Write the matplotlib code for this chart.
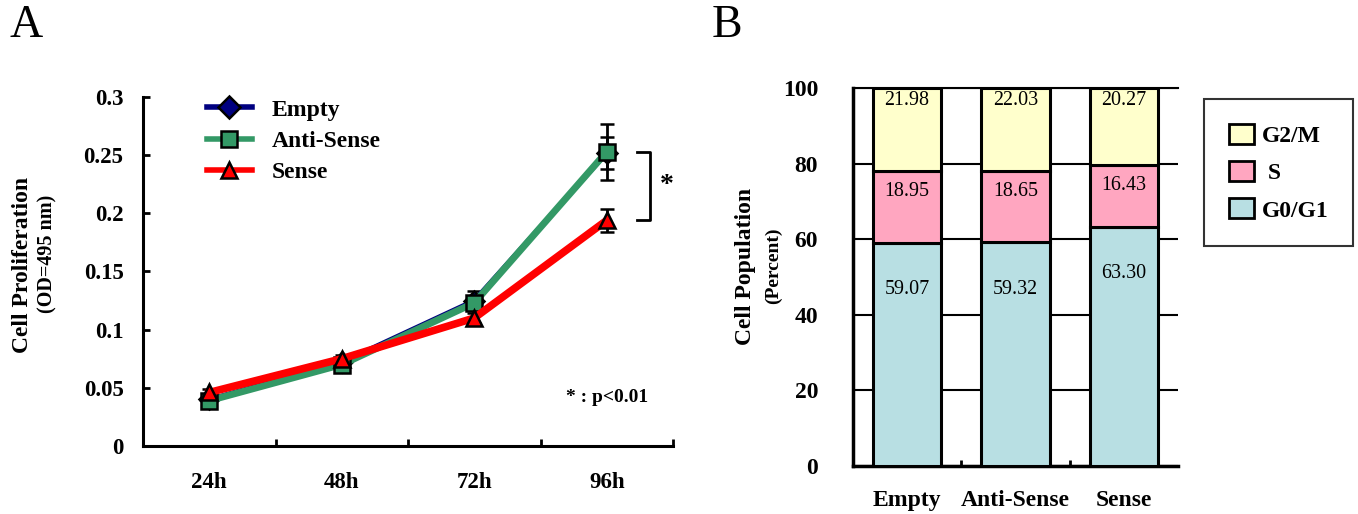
import numpy as np
import matplotlib
matplotlib.use('Agg')
import matplotlib.pyplot as plt
from matplotlib.patches import Patch
from matplotlib.lines import Line2D

plt.rcParams['font.family'] = ['Liberation Serif', 'DejaVu Serif']
plt.rcParams['font.weight'] = 'bold'

# Panel A: cell proliferation (OD 495 nm)
time_points = ['24h', '48h', '72h', '96h']
empty_od = [0.040, 0.072, 0.125, 0.252]
empty_err = [0.003, 0.003, 0.008, 0.014]
antisense_od = [0.039, 0.070, 0.123, 0.253]
antisense_err = [0.003, 0.004, 0.005, 0.024]
sense_od = [0.046, 0.075, 0.110, 0.194]
sense_err = [0.003, 0.003, 0.004, 0.010]

# Panel B: cell cycle distribution (percent)
groups = ['Empty', 'Anti-Sense', 'Sense']
g0g1 = [59.07, 59.32, 63.30]
s_phase = [18.95, 18.65, 16.43]
g2m = [21.98, 22.03, 20.27]

fig = plt.figure(figsize=(13.58, 5.14), dpi=100)

# ---------------- Panel A ----------------
axA = fig.add_axes([0.1053, 0.1323, 0.3903, 0.679])
x = np.arange(len(time_points))

series = [
    ('Empty', empty_od, empty_err, '#000080', 'D', 3.5, 10),
    ('Anti-Sense', antisense_od, antisense_err, '#339966', 's', 5, 12),
    ('Sense', sense_od, sense_err, '#FF0000', '^', 5.5, 12),
]
handles = []
for label, vals, errs, col, mk, lw, ms in series:
    axA.errorbar(x, vals, yerr=errs, color=col, lw=lw, marker=mk,
                 markersize=ms, markerfacecolor=col, markeredgecolor='black',
                 markeredgewidth=1.8, ecolor='black', elinewidth=2,
                 capsize=5, capthick=2)
    handles.append(Line2D([], [], color=col, lw=4, marker=mk, markersize=11,
                          markerfacecolor=col, markeredgecolor='black',
                          markeredgewidth=1.8))

axA.set_xlim(-0.5, len(time_points) - 0.5)
axA.set_ylim(0, 0.3)
axA.set_yticks([0, 0.05, 0.1, 0.15, 0.2, 0.25, 0.3])
axA.set_yticklabels(['0', '0.05', '0.1', '0.15', '0.2', '0.25', '0.3'])
axA.set_xticks(x)
axA.set_xticklabels(time_points)
axA.set_xticks(np.arange(0.5, len(time_points), 1), minor=True)
axA.tick_params(axis='x', which='major', length=0, pad=19, labelsize=16.5)
axA.tick_params(axis='x', which='minor', direction='in', length=5, width=2)
axA.tick_params(axis='y', direction='in', length=5, width=2, pad=14, labelsize=16.5)
for side in ['top', 'right']:
    axA.spines[side].set_visible(False)
for side in ['left', 'bottom']:
    axA.spines[side].set_linewidth(2.2)

axA.legend(handles, [s[0] for s in series], loc='upper left',
           bbox_to_anchor=(0.08, 1.055), frameon=False, fontsize=17,
           handlelength=1.9, handletextpad=0.85, labelspacing=0.42)

# significance bracket between Anti-Sense and Sense at 96h
bx0, bx1 = 3.23, 3.33
ytop, ybot = antisense_od[-1], sense_od[-1]
axA.plot([bx0, bx1, bx1, bx0], [ytop, ytop, ybot, ybot], color='black',
         lw=2, clip_on=False)
axA.text(3.45, (ytop + ybot) / 2, '*', fontsize=20, ha='center', va='center')
axA.text(3.0, 0.042, '* : p<0.01', fontsize=14, ha='center', va='center')

fig.text(22 / 1358, 1 - 265 / 514, 'Cell Proliferation', rotation=90,
         fontsize=17, ha='center', va='center')
fig.text(47 / 1358, 1 - 254 / 514, '(OD=495 nm)', rotation=90,
         fontsize=14.5, ha='center', va='center')

# ---------------- Panel B ----------------
axB = fig.add_axes([0.6281, 0.0934, 0.2393, 0.7354])
xb = np.arange(len(groups))
colors = {'G0/G1': '#B8DFE3', 'S': '#FFA6C0', 'G2/M': '#FFFFCC'}
bottom = np.zeros(len(groups))
label_offset = {'G0/G1': 12.5, 'S': 5.4, 'G2/M': 3.3}
for name, vals in [('G0/G1', g0g1), ('S', s_phase), ('G2/M', g2m)]:
    axB.bar(xb, vals, bottom=bottom, width=0.63, color=colors[name],
            edgecolor='black', linewidth=2.2, zorder=3)
    for xi, b, v in zip(xb, bottom, vals):
        axB.text(xi, b + v - label_offset[name], f'{v:.2f}', ha='center',
                 va='center', fontsize=14.4, fontweight='normal', zorder=4)
    bottom = bottom + np.array(vals)

axB.set_xlim(-0.5, len(groups) - 0.5)
axB.set_ylim(0, 100)
axB.set_yticks([0, 20, 40, 60, 80, 100])
axB.yaxis.grid(True, color='black', lw=1.5, zorder=0)
axB.set_axisbelow(True)
axB.set_xticks(xb)
axB.set_xticklabels(groups)
axB.set_xticks([0.5, 1.5], minor=True)
axB.tick_params(axis='x', which='major', length=0, pad=17, labelsize=17)
axB.tick_params(axis='x', which='minor', direction='in', length=4, width=2)
axB.tick_params(axis='y', length=0, pad=25, labelsize=17)
axB.spines['right'].set_visible(False)
axB.spines['top'].set_linewidth(1.5)
for side in ['left', 'bottom']:
    axB.spines[side].set_linewidth(2.5)

fig.text(745 / 1358, 1 - 266 / 514, 'Cell Population', rotation=90,
         fontsize=17, ha='center', va='center')
fig.text(773 / 1358, 1 - 266 / 514, '(Percent)', rotation=90,
         fontsize=14, ha='center', va='center')

phase_handles = [Patch(facecolor=colors[n], edgecolor='black', linewidth=2)
                 for n in ['G2/M', 'S', 'G0/G1']]
legB = fig.legend(phase_handles, ['G2/M', ' S', 'G0/G1'], loc='upper left',
                  bbox_to_anchor=(1204 / 1358, 1 - 99 / 514), fontsize=17,
                  frameon=True, fancybox=False, edgecolor='black',
                  borderpad=1.05, handlelength=1.06, handleheight=0.93,
                  handletextpad=0.34, labelspacing=0.6, borderaxespad=0)
legB.get_frame().set_linewidth(1.5)

fig.text(10 / 1358, 1 - 26 / 514, 'A', fontsize=33, fontweight='normal',
         ha='left', va='center')
fig.text(712 / 1358, 1 - 26 / 514, 'B', fontsize=33, fontweight='normal',
         ha='left', va='center')

fig.savefig('out.png', dpi=100)
